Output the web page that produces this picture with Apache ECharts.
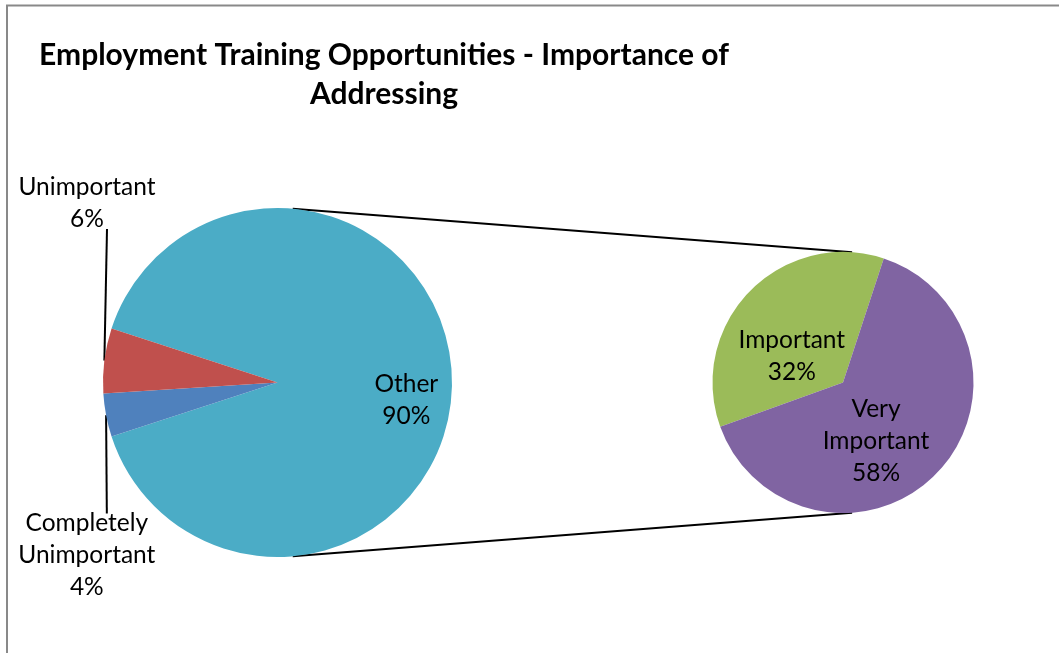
<!DOCTYPE html>
<html>
<head>
<meta charset="utf-8">
<script src="https://cdn.jsdelivr.net/npm/echarts@6/dist/echarts.min.js"></script>
<style>
  html, body { margin: 0; padding: 0; background: #fff; }
  #chart { width: 1059px; height: 653px; }
</style>
</head>
<body>
<div id="chart"></div>
<script>
// main pie: Other is broken out into the secondary pie
const mainNames = ['Other', 'Completely Unimportant', 'Unimportant'];
const mainValues = [90, 4, 6];
// secondary pie (breakdown of Other)
const subNames = ['Important', 'Very Important'];
const subValues = [32, 58];

const mainColors = ['#4BACC6', '#4F81BD', '#C0504D'];
const subColors = ['#9BBB59', '#8064A2'];

const FONT = 'Lato';
const LABEL_SIZE = 24.5;
const LINE_H = 32;

// pie geometry in px
const MAIN = { cx: 277.5, cy: 382.5, r: 174.5 };
const SUB = { cx: 843, cy: 382.5, r: 130.5 };

// label spots: [angle deg (ccw from east), distance as share of radius]
const labelSpots = {
  'Other': [-7.7, 0.745],
  'Unimportant': [136.7, 1.5],
  'Completely Unimportant': [222.2, 1.475],
  'Important': [153, 0.44],
  'Very Important': [-60.6, 0.515]
};

function polar(g, deg, k) {
  const a = deg * Math.PI / 180;
  return [g.cx + g.r * k * Math.cos(a), g.cy - g.r * k * Math.sin(a)];
}

function labelText(p) {
  return p.name.split(' ').join('\n') + '\n' + p.value + '%';
}

function makeLayout(g) {
  return function (p) {
    const spot = labelSpots[p.text ? p.text.split('\n').slice(0, -1).join(' ') : ''];
    if (!spot) return {};
    const xy = polar(g, spot[0], spot[1]);
    const out = { x: xy[0], y: xy[1], align: 'center', verticalAlign: 'middle' };
    if (spot[1] > 1 && p.labelLinePoints) {
      const lines = p.text.split('\n').length;
      const half = lines * LINE_H / 2 - 6;
      const start = p.labelLinePoints[0];
      const endY = xy[1] < g.cy ? xy[1] + half : xy[1] - half;
      out.labelLinePoints = [start, [xy[0] + 20, endY], [xy[0] + 20, endY]];
    }
    return out;
  };
}

const labelStyle = {
  color: '#000',
  fontFamily: FONT,
  fontSize: LABEL_SIZE,
  lineHeight: LINE_H,
  align: 'center',
  formatter: labelText
};

const chart = echarts.init(document.getElementById('chart'));

const top1 = polar(MAIN, 85, 1), top2 = polar(SUB, 86, 1);
const bot1 = polar(MAIN, -85, 1), bot2 = polar(SUB, -86, 1);

chart.setOption({
  backgroundColor: '#fff',
  animation: false,
  title: {
    text: 'Employment Training Opportunities - Importance of\nAddressing',
    left: 379,
    top: 31,
    textAlign: 'center',
    textStyle: {
      fontFamily: FONT,
      fontWeight: 'bold',
      fontSize: 30,
      lineHeight: 39,
      color: '#000'
    }
  },
  graphic: [
    {
      type: 'rect',
      shape: { x: 7, y: 5.5, width: 1060, height: 660 },
      style: { fill: null, stroke: '#898989', lineWidth: 2 },
      silent: true
    },
    {
      type: 'line',
      shape: { x1: top1[0], y1: top1[1], x2: top2[0], y2: top2[1] },
      style: { stroke: '#000', lineWidth: 2 },
      silent: true
    },
    {
      type: 'line',
      shape: { x1: bot1[0], y1: bot1[1], x2: bot2[0], y2: bot2[1] },
      style: { stroke: '#000', lineWidth: 2 },
      silent: true
    }
  ],
  series: [
    {
      name: 'main',
      type: 'pie',
      center: [MAIN.cx, MAIN.cy],
      radius: MAIN.r,
      startAngle: 162,
      clockwise: true,
      avoidLabelOverlap: false,
      label: Object.assign({ position: 'outside' }, labelStyle),
      labelLine: { show: true, lineStyle: { color: '#000', width: 2 } },
      labelLayout: makeLayout(MAIN),
      emphasis: { disabled: true },
      data: mainNames.map((n, i) => ({
        name: n,
        value: mainValues[i],
        itemStyle: { color: mainColors[i] },
        label: n === 'Other' ? { position: 'inside' } : undefined,
        labelLine: n === 'Other' ? { show: false } : undefined
      }))
    },
    {
      name: 'sub',
      type: 'pie',
      center: [SUB.cx, SUB.cy],
      radius: SUB.r,
      startAngle: 199.8,
      clockwise: true,
      avoidLabelOverlap: false,
      label: Object.assign({ position: 'inside' }, labelStyle),
      labelLine: { show: false },
      labelLayout: makeLayout(SUB),
      emphasis: { disabled: true },
      data: subNames.map((n, i) => ({
        name: n,
        value: subValues[i],
        itemStyle: { color: subColors[i] }
      }))
    }
  ]
});
</script>
</body>
</html>
